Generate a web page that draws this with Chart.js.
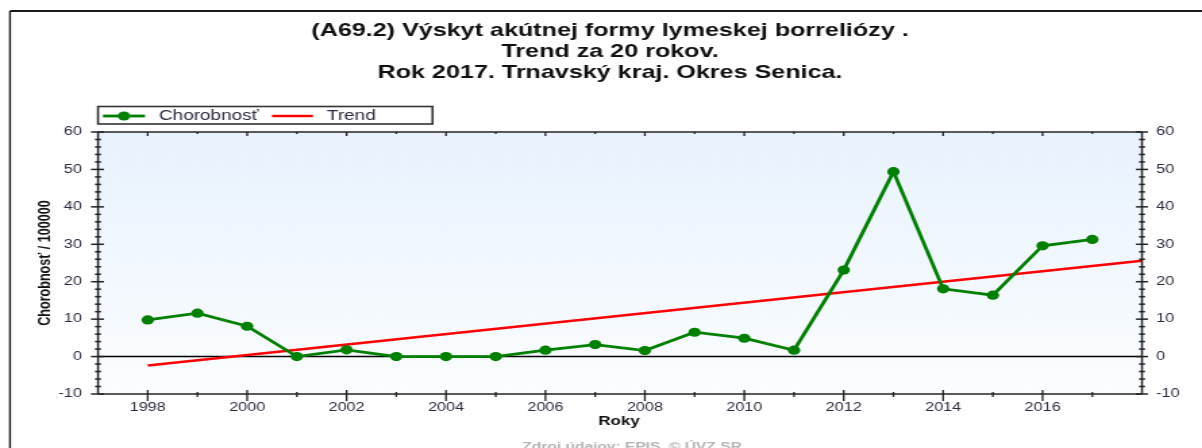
<!DOCTYPE html>
<html><head><meta charset="utf-8">
<script src="https://cdn.jsdelivr.net/npm/chart.js@4.4.1/dist/chart.umd.min.js"></script>
<style>html,body{margin:0;padding:0;background:#fff;overflow:hidden}canvas{display:block}</style>
</head><body>
<canvas id="c" width="890" height="448" style="width:1202px;height:448px"></canvas>
<script>
// ---- data ----
const titleLines = [
  '(A69.2) Výskyt akútnej formy lymeskej borreliózy .',
  'Trend za 20 rokov.',
  'Rok 2017. Trnavský kraj. Okres Senica.'
];
const seriesNames = ['Chorobnosť', 'Trend'];
const years = [1998, 1999, 2000, 2001, 2002, 2003, 2004, 2005, 2006, 2007, 2008, 2009, 2010, 2011, 2012, 2013, 2014, 2015, 2016, 2017];
const chorobnost = [9.8, 11.6, 8.1, 0, 1.8, 0, 0, 0, 1.7, 3.2, 1.6, 6.5, 4.9, 1.7, 23.1, 49.4, 18.1, 16.4, 29.6, 31.3];
const trendYears = [1998, 2018];
const trendValues = [-2.4, 25.6];
const xLabelYears = [1998, 2000, 2002, 2004, 2006, 2008, 2010, 2012, 2014, 2016];
const xMin = 1997, xMax = 2018;
const yMin = -10, yMax = 60, yStep = 10, yMinorStep = 2;
const xTitle = 'Roky';
const yTitle = 'Chorobnosť / 100000';
const sourceText = 'Zdroj údajov: EPIS, © ÚVZ SR';

// ---- drawing ----
const W = 890, S = 1202 / W;
const X = v => v / S;            // reference px -> internal canvas px (horizontal)
const FONT = "'Liberation Sans', Arial, sans-serif";
const TXT = '#2b2b3f';

function line(ctx, x1, y1, x2, y2) { ctx.beginPath(); ctx.moveTo(x1, y1); ctx.lineTo(x2, y2); ctx.stroke(); }

const deco = {
  id: 'deco',
  beforeDraw(chart) {
    const ctx = chart.ctx, ca = chart.chartArea;
    ctx.save();
    ctx.fillStyle = '#fff';
    ctx.fillRect(0, 0, chart.width, chart.height);
    ctx.strokeStyle = '#1a1a1a';
    ctx.lineWidth = 2;
    line(ctx, X(10), 11, chart.width, 11);
    ctx.lineWidth = 1.4;
    line(ctx, X(10), 11, X(10), chart.height);
    const g = ctx.createLinearGradient(0, ca.top, 0, ca.bottom);
    g.addColorStop(0, '#e8f2fd');
    g.addColorStop(1, '#fbfdff');
    ctx.fillStyle = g;
    ctx.fillRect(ca.left, ca.top, ca.right - ca.left, ca.bottom - ca.top);
    ctx.restore();
  },
  beforeDatasetsDraw(chart) {
    const ctx = chart.ctx, ca = chart.chartArea;
    const y0 = chart.scales.y.getPixelForValue(0);
    ctx.save();
    ctx.strokeStyle = '#000';
    ctx.lineWidth = 1.5;
    line(ctx, ca.left, y0, ca.right, y0);
    ctx.restore();
  },
  afterDraw(chart) {
    const ctx = chart.ctx, ca = chart.chartArea;
    const xs = chart.scales.x, ys = chart.scales.y;
    ctx.save();
    ctx.strokeStyle = '#5a5a5a';
    ctx.lineWidth = 2;
    line(ctx, ca.left, ca.top, ca.right, ca.top);
    line(ctx, ca.left, ca.bottom, ca.right, ca.bottom);
    ctx.strokeStyle = '#2a2a2a';
    ctx.lineWidth = 1.5;
    line(ctx, ca.left, ca.top, ca.left, ca.bottom);
    line(ctx, ca.right, ca.top, ca.right, ca.bottom);
    ctx.strokeStyle = '#222';
    ctx.lineWidth = 1.3;
    for (let yr = xMin + 1; yr < xMax; yr++) {
      const px = xs.getPixelForValue(yr);
      const major = yr % 2 === 0;
      line(ctx, px, ca.bottom - (major ? 4 : 2), px, ca.bottom + (major ? 7 : 3));
      line(ctx, px, ca.top, px, ca.top + (major ? 4 : 2));
    }
    ctx.lineWidth = 1.5;
    for (let v = yMin; v <= yMax; v += yMinorStep) {
      const py = ys.getPixelForValue(v);
      const major = v % yStep === 0;
      line(ctx, ca.left - X(major ? 7 : 3), py, ca.left + X(major ? 6 : 3), py);
      line(ctx, ca.right - X(major ? 6 : 3), py, ca.right + X(major ? 6 : 3), py);
    }
    // title
    ctx.fillStyle = '#111';
    ctx.textAlign = 'center';
    ctx.textBaseline = 'middle';
    ctx.font = 'bold 18.6px ' + FONT;
    titleLines.forEach((t, i) => ctx.fillText(t, X(610), 31 + i * 21));
    // axis titles
    ctx.font = 'bold 12.6px ' + FONT;
    ctx.fillText(xTitle, X(619), 422);
    ctx.save();
    ctx.translate(X(45), (ca.top + ca.bottom) / 2);
    ctx.rotate(-Math.PI / 2);
    ctx.font = 'bold 12.6px ' + FONT;
    ctx.fillText(yTitle, 0, 0);
    ctx.restore();
    // source
    ctx.fillStyle = '#b4b4b4';
    ctx.font = 'bold 11.5px ' + FONT;
    ctx.textBaseline = 'alphabetic';
    ctx.fillText(sourceText, X(632), 450);
    // legend
    const ds = chart.data.datasets;
    const ly = 116;
    ctx.fillStyle = '#fff';
    ctx.fillRect(X(98), 106.5, X(432.5) - X(98), 17.5);
    ctx.strokeStyle = '#333';
    ctx.lineWidth = 1.6;
    ctx.strokeRect(X(98), 106.5, X(432.5) - X(98), 17.5);
    ctx.strokeStyle = ds[0].borderColor; ctx.lineWidth = 2.8;
    line(ctx, X(103), ly, X(145), ly);
    ctx.fillStyle = ds[0].pointBackgroundColor;
    ctx.beginPath(); ctx.arc(X(124), ly, 4.6, 0, Math.PI * 2); ctx.fill();
    ctx.strokeStyle = ds[1].borderColor; ctx.lineWidth = 2.4;
    line(ctx, X(272), ly, X(313), ly);
    ctx.fillStyle = TXT;
    ctx.textAlign = 'left';
    ctx.textBaseline = 'middle';
    ctx.font = '14px ' + FONT;
    ctx.fillText(ds[0].label, X(159), ly);
    ctx.fillText(ds[1].label, X(327), ly);
    ctx.restore();
  }
};

new Chart(document.getElementById('c'), {
  type: 'line',
  data: {
    datasets: [
      {
        label: seriesNames[0],
        data: years.map((y, i) => ({ x: y, y: chorobnost[i] })),
        borderColor: '#008000',
        backgroundColor: '#008000',
        pointBackgroundColor: '#008000',
        pointBorderColor: '#008000',
        borderWidth: 2.8,
        pointRadius: 4.6,
        pointBorderWidth: 0,
        tension: 0,
        yAxisID: 'y'
      },
      {
        label: seriesNames[1],
        data: trendYears.map((y, i) => ({ x: y, y: trendValues[i] })),
        borderColor: '#ff0000',
        backgroundColor: '#ff0000',
        borderWidth: 2.4,
        pointRadius: 0,
        tension: 0,
        yAxisID: 'y'
      }
    ]
  },
  options: {
    responsive: false,
    animation: false,
    devicePixelRatio: 1,
    layout: { padding: { top: 132, left: 0, right: 0, bottom: 0 } },
    plugins: { legend: { display: false }, title: { display: false }, tooltip: { enabled: false } },
    scales: {
      x: {
        type: 'linear', min: xMin, max: xMax,
        grid: { display: false, drawTicks: false },
        border: { display: false },
        afterFit(s) { s.height = 448 - 394; },
        ticks: {
          stepSize: 1, autoSkip: false, maxRotation: 0, padding: 6,
          color: TXT, font: { family: FONT, size: 12 },
          callback: v => xLabelYears.includes(v) ? String(v) : ''
        }
      },
      y: {
        position: 'left', min: yMin, max: yMax,
        grid: { display: false, drawTicks: false },
        border: { display: false },
        afterFit(s) { s.width = X(98); },
        ticks: { stepSize: yStep, padding: 12, color: TXT, font: { family: FONT, size: 12 } }
      },
      y2: {
        position: 'right', min: yMin, max: yMax,
        grid: { display: false, drawTicks: false },
        border: { display: false },
        afterFit(s) { s.width = W - X(1142); },
        ticks: { stepSize: yStep, padding: 10.5, color: TXT, font: { family: FONT, size: 12 } }
      }
    }
  },
  plugins: [deco]
});
</script>
</body></html>
